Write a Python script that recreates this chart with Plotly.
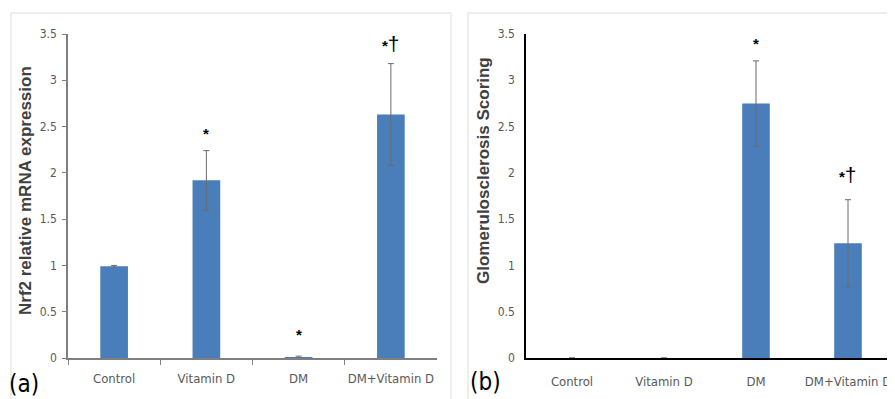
import plotly.graph_objects as go

categories = ["Control", "Vitamin D", "DM", "DM+Vitamin D"]
nrf2_values = [0.99, 1.92, 0.01, 2.63]
nrf2_errors = [0.01, 0.32, 0.01, 0.55]
nrf2_marks = ["", "*", "*", "*†"]
nrf2_mark_y = [0, 2.43, 0.25, 3.40]

glom_values = [0, 0, 2.75, 1.24]
glom_errors = [0, 0, 0.46, 0.47]
glom_marks = ["", "", "*", "*†"]
glom_mark_y = [0, 0, 3.40, 1.98]

yticks = [0, 0.5, 1, 1.5, 2, 2.5, 3, 3.5]
yticktext = ["0", "0.5", "1", "1.5", "2", "2.5", "3", "3.5"]

OFF = 8  # default page body margin
W, H = 895 - OFF, 399 - OFF
BAR = "#4a7ebb"
NARROW = "Liberation Sans Narrow, Arial Narrow, DejaVu Sans Condensed, sans-serif"
TICKC = "#595959"

def px(x):
    return (x - OFF) / W

def py(y):
    return 1 - (y - OFF) / H

def mark_html(m):
    if m.endswith("†"):
        return "<b>" + m[:-1] + "</b><span style='font-size:21px'>†</span>"
    return "<b>" + m + "</b>"

fig = go.Figure()
fig.add_trace(go.Bar(
    x=categories, y=nrf2_values, width=0.3, marker=dict(color=BAR, line=dict(width=0)),
    error_y=dict(type="data", array=nrf2_errors, color="#6b6b6b", thickness=1, width=3),
    xaxis="x", yaxis="y", showlegend=False))
fig.add_trace(go.Bar(
    x=categories, y=glom_values, width=0.3, marker=dict(color=BAR, line=dict(width=0)),
    error_y=dict(type="data", array=glom_errors, color="#6b6b6b", thickness=1, width=3),
    xaxis="x2", yaxis="y2", showlegend=False))

tickfont_y = dict(family=NARROW, size=12, color=TICKC)
tickfont_x = dict(family=NARROW, size=13, color=TICKC)

fig.update_layout(
    width=W, height=H, margin=dict(l=0, r=0, t=0, b=0, autoexpand=False),
    paper_bgcolor="white", plot_bgcolor="white",
    xaxis=dict(domain=[px(68), px(437)], type="category", tickson="boundaries",
               ticks="outside", ticklen=5, tickcolor="#7f7f7f", showline=True,
               linecolor="#7f7f7f", linewidth=1.5, tickfont=tickfont_x, tickangle=0,
               ticklabelstandoff=8, anchor="y", showgrid=False, automargin=False),
    yaxis=dict(domain=[py(358), py(34)], range=[0, 3.5], tickvals=yticks, ticktext=yticktext,
               ticks="outside", ticklen=4, tickcolor="#7f7f7f", showline=True,
               linecolor="#7f7f7f", linewidth=1.5, tickfont=tickfont_y,
               showgrid=False, zeroline=False, anchor="x", ticklabelstandoff=3, automargin=False),
    xaxis2=dict(domain=[px(526), px(894)], type="category", ticks="", tickangle=0,
                showline=True, linecolor="black", linewidth=2, tickfont=tickfont_x,
                ticklabelstandoff=10, anchor="y2", showgrid=False, automargin=False),
    yaxis2=dict(domain=[py(358), py(34)], range=[0, 3.5], tickvals=yticks, ticktext=yticktext,
                ticks="", showline=True, linecolor="black", linewidth=1.5,
                tickfont=tickfont_y, showgrid=False, zeroline=False, anchor="x2",
                ticklabelstandoff=7, automargin=False),
)

# panel frames
fig.add_shape(type="rect", xref="paper", yref="paper", x0=px(11), x1=px(451), y0=py(420), y1=py(13),
              line=dict(color="#dcdcdc", width=1), fillcolor="rgba(0,0,0,0)", layer="below")
fig.add_shape(type="rect", xref="paper", yref="paper", x0=px(468), x1=px(920), y0=py(420), y1=py(13),
              line=dict(color="#dcdcdc", width=1), fillcolor="rgba(0,0,0,0)", layer="below")

ann = []
for xa, ya, marks, ys in (("x", "y", nrf2_marks, nrf2_mark_y), ("x2", "y2", glom_marks, glom_mark_y)):
    for c, m, yy in zip(categories, marks, ys):
        if m:
            ann.append(dict(x=c, y=yy, xref=xa, yref=ya, text=mark_html(m), showarrow=False,
                            font=dict(family="Liberation Sans, Arial, sans-serif", size=15, color="black"),
                            xanchor="center", yanchor="middle"))

ann.append(dict(x=px(26), y=py(191), xref="paper", yref="paper", text="<b>Nrf2 relative mRNA expression</b>",
                textangle=-90, showarrow=False, xanchor="center", yanchor="middle",
                font=dict(family="Liberation Sans, Arial, sans-serif", size=17, color="#404040")))
ann.append(dict(x=px(484), y=py(171), xref="paper", yref="paper", text="<b>Glomerulosclerosis Scoring</b>",
                textangle=-90, showarrow=False, xanchor="center", yanchor="middle",
                font=dict(family="Liberation Sans, Arial, sans-serif", size=17, color="#404040")))
ann.append(dict(x=px(24), y=py(384), xref="paper", yref="paper", text="(a)", showarrow=False,
                xanchor="center", yanchor="middle",
                font=dict(family=NARROW, size=24, color="black")))
ann.append(dict(x=px(485), y=py(382), xref="paper", yref="paper", text="(b)", showarrow=False,
                xanchor="center", yanchor="middle",
                font=dict(family=NARROW, size=24, color="black")))
fig.update_layout(annotations=ann)

fig.write_html("out.html")
